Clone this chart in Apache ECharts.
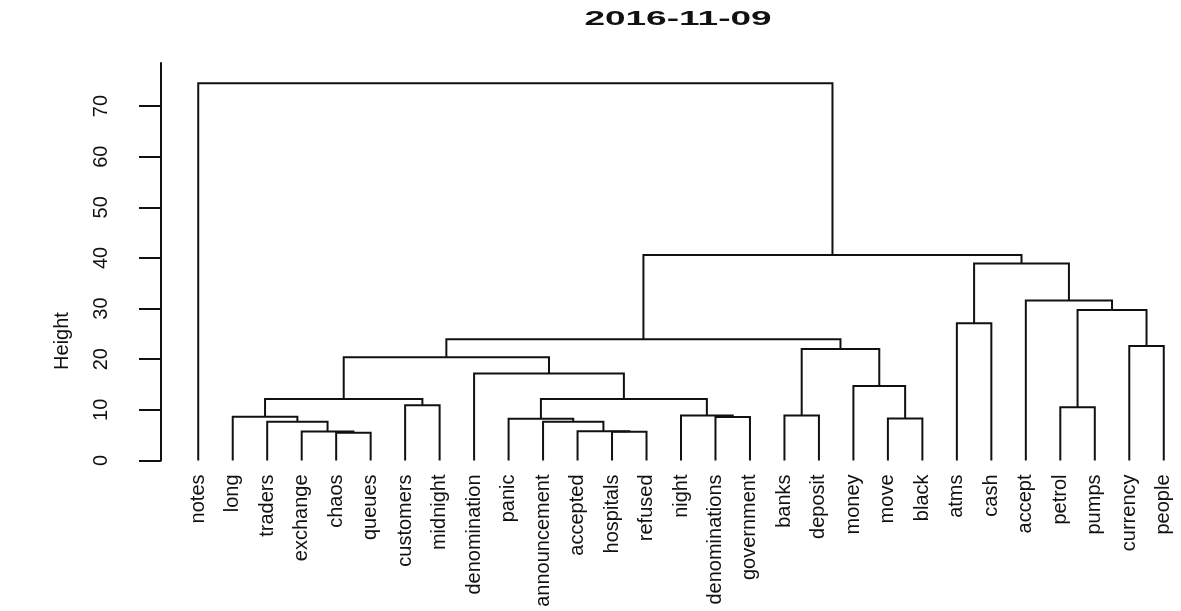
<!DOCTYPE html>
<html>
<head>
<meta charset="utf-8">
<script src="https://cdn.jsdelivr.net/npm/echarts@6/dist/echarts.min.js"></script>
<style>
html, body { margin: 0; padding: 0; background: #ffffff; }
#chart { width: 1181px; height: 611px; }
</style>
</head>
<body>
<div id="chart"></div>
<script>
// Leaf labels in dendrogram order
const leafLabels = ['notes', 'long', 'traders', 'exchange', 'chaos', 'queues', 'customers', 'midnight',
  'denomination', 'panic', 'announcement', 'accepted', 'hospitals', 'refused', 'night',
  'denominations', 'government', 'banks', 'deposit', 'money', 'move', 'black', 'atms', 'cash',
  'accept', 'petrol', 'pumps', 'currency', 'people'];

// hclust-style merge table: negative = leaf (1-based), positive = earlier merge row (1-based)
const mergeLeft   = [-5, -13, -4, -12, -11, -3, -10, -21, -2, -16, -18, -15, -26, -7, 9, 7, -20, -9, 15, 11, -28, 19, -23, 13, -25, 23, 22, -1];
const mergeRight  = [-6, -14, 1, 2, 4, 3, 5, -22, 6, -17, -19, 10, -27, -8, 14, 12, 8, 16, 18, 17, -29, 20, -24, 21, 24, 25, 26, 27];
const mergeHeight = [5.5, 5.7, 5.75, 5.8, 7.65, 7.65, 8.25, 8.3, 8.65, 8.6, 8.9, 8.9, 10.5, 10.9, 12.15, 12.15, 14.7, 17.2, 20.4, 22.0, 22.6, 23.95, 27.1, 29.7, 31.6, 38.9, 40.6, 74.5];

const yTicks = [0, 10, 20, 30, 40, 50, 60, 70];
const titleText = '2016-11-09';
const yName = 'Height';

// Build segment data (in data space) from the merge table
const nodeX = [], nodeH = [];
function pos(ref) {
  if (ref < 0) return [(-ref) - 1, 0];
  return [nodeX[ref - 1], nodeH[ref - 1]];
}
const segData = [];
for (let i = 0; i < mergeLeft.length; i++) {
  const l = pos(mergeLeft[i]);
  const r = pos(mergeRight[i]);
  nodeX.push((l[0] + r[0]) / 2);
  nodeH.push(mergeHeight[i]);
  segData.push([l[0], l[1], r[0], r[1], mergeHeight[i]]);
}

const FONT = '"Liberation Sans", Arial, Helvetica, sans-serif';
const chart = echarts.init(document.getElementById('chart'), null, { renderer: 'canvas' });
chart.setOption({
  animation: false,
  backgroundColor: '#ffffff',
  grid: { left: 161, right: 0, top: 63, bottom: 150.5, containLabel: false, outerBoundsMode: 'none' },
  xAxis: {
    type: 'value', min: -1.08, max: 28.5,
    axisLine: { show: false, onZero: false }, axisTick: { show: false }, splitLine: { show: false },
    axisLabel: {
      customValues: leafLabels.map((_, i) => i),
      formatter: (v) => leafLabels[Math.round(v)],
      rotate: 90, margin: 14, fontSize: 20, color: '#111', fontFamily: FONT
    }
  },
  yAxis: {
    type: 'value', min: 0, max: 78.5, interval: 10,
    axisLine: { show: true, onZero: false, lineStyle: { color: '#111', width: 2 } },
    axisTick: { show: true, length: 22, customValues: yTicks, lineStyle: { color: '#111', width: 2 } },
    axisLabel: { customValues: yTicks, rotate: 90, margin: 50, fontSize: 20, color: '#111', fontFamily: FONT },
    splitLine: { show: false }
  },
  graphic: [
    { type: 'text', x: 678, y: 19, scaleX: 1.85, style: { text: titleText, font: 'bold 20px ' + FONT, fill: '#111', textAlign: 'center', textVerticalAlign: 'middle' } },
    { type: 'text', x: 62, y: 341, rotation: Math.PI / 2, style: { text: yName, font: '20px ' + FONT, fill: '#111', textAlign: 'center', textVerticalAlign: 'middle' } }
  ],
  series: [{
    type: 'custom',
    coordinateSystem: 'cartesian2d',
    clip: false,
    encode: { x: [0, 2], y: [1, 3, 4] },
    data: segData,
    renderItem: function (params, api) {
      const p1 = api.coord([api.value(0), api.value(1)]);
      const p2 = api.coord([api.value(0), api.value(4)]);
      const p3 = api.coord([api.value(2), api.value(4)]);
      const p4 = api.coord([api.value(2), api.value(3)]);
      return {
        type: 'polyline',
        shape: { points: [p1, p2, p3, p4] },
        style: { stroke: '#111', lineWidth: 2, fill: null, lineJoin: 'miter' }
      };
    }
  }]
});
</script>
</body>
</html>
